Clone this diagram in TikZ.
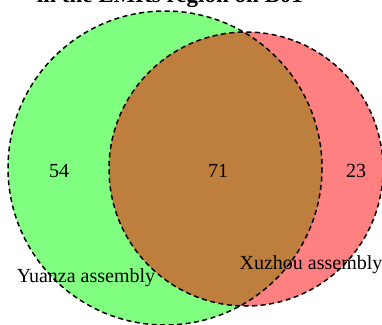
\documentclass[tikz,border=0pt]{standalone}
\usepackage{fontspec}
\setmainfont{Liberation Serif}
\begin{document}
\begin{tikzpicture}[x=1pt,y=-1pt,
  circ/.style={draw=black,line width=1.5pt,dash pattern=on 5pt off 3.5pt},
  lab/.style={font=\fontsize{20}{22}\selectfont,inner sep=0pt}]
\useasboundingbox (0,0) rectangle (382,324);
\clip (0,0) rectangle (382,324);
\node[font=\bfseries\fontsize{23}{25}\selectfont,inner sep=0pt,anchor=base] (title) at (170,2.5) {in the LMRs region on B01};
\fill[fill={rgb,255:red,128;green,255;blue,128}] (165,168) circle (157);
\fill[fill={rgb,255:red,255;green,128;blue,128}] (246,169) circle (137);
\begin{scope}
\clip (165,168) circle (157);
\fill[fill={rgb,255:red,190;green,126;blue,62}] (246,169) circle (137);
\end{scope}
\draw[circ] (165,168) circle (157);
\draw[circ] (246,169) circle (137);
\node[lab] (a) at (59,171) {54};
\node[lab] (b) at (218,171) {71};
\node[lab] (c) at (356,171) {23};
\node[lab] (ya) at (86,278) {Yuanza assembly};
\node[lab] (xa) at (311,265) {Xuzhou assembly};
\end{tikzpicture}
\end{document}
